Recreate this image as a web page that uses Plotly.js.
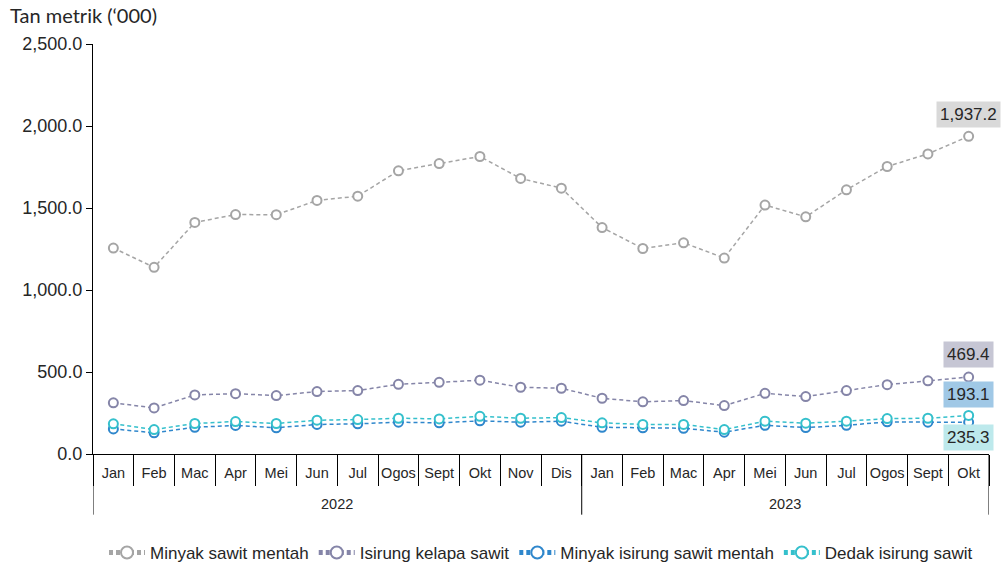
<!DOCTYPE html>
<html>
<head>
<meta charset="utf-8">
<script src="https://cdn.plot.ly/plotly-3.0.1.min.js"></script>
<style>html,body{margin:0;padding:0;background:#fff;}#chart{width:1002px;height:569px;}</style>
</head>
<body>
<div id="chart"></div>
<script>
const years = ['2022','2022','2022','2022','2022','2022','2022','2022','2022','2022','2022','2022',
               '2023','2023','2023','2023','2023','2023','2023','2023','2023','2023'];
const months = ['Jan','Feb','Mac','Apr','Mei','Jun','Jul','Ogos','Sept','Okt','Nov','Dis',
                'Jan','Feb','Mac','Apr','Mei','Jun','Jul','Ogos','Sept','Okt'];

const seriesNames = ['Minyak sawit mentah','Isirung kelapa sawit','Minyak isirung sawit mentah','Dedak isirung sawit'];

const minyakSawitMentah = [1256,1138,1412,1460,1459,1546,1572,1727,1771,1814,1680,1621,
                           1381,1253,1288,1195,1518,1446,1611,1753,1830,1937.2];
const isirungKelapaSawit = [312,281,360,368,356,381,387,425,437,450,407,401,
                            340,318,326,295,370,350,387,423,446,469.4];
const minyakIsirungSawitMentah = [153,129,163,174,160,180,184,194,190,202,194,200,
                                  163,160,157,133,175,161,175,196,194,193.1];
const dedakIsirungSawit = [184,149,186,198,186,206,210,218,214,230,218,222,
                           190,180,180,149,200,188,200,216,218,235.3];

const lineColors = ['#a5a5a5','#8585a8','#2f87cc','#35c0cc'];
const boxColors = ['#d9d9d9','#c6c6d4','#a0c8e6','#bde9ec'];
const labelShift = [22, 23, 28, -22];

const allValues = [minyakSawitMentah, isirungKelapaSawit, minyakIsirungSawitMentah, dedakIsirungSawit];
const FONT = 'Liberation Sans';
const xIdx = months.map((m, i) => i);
const lastIdx = months.length - 1;

const traces = allValues.map((vals, i) => ({
  type: 'scatter',
  mode: 'lines+markers',
  name: seriesNames[i],
  x: xIdx,
  y: vals,
  line: {color: lineColors[i], width: 1.5, dash: '4px,3px'},
  marker: {symbol: 'circle', size: 9, color: '#ffffff', line: {width: 2, color: lineColors[i]}},
  hoverinfo: 'skip'
}));

// year groups derived from the years array
const groups = [];
years.forEach((y, i) => {
  if (!groups.length || groups[groups.length - 1].name !== y) groups.push({name: y, start: i, end: i});
  else groups[groups.length - 1].end = i;
});

const valueLabels = allValues.map((vals, i) => ({
  x: lastIdx,
  y: vals[lastIdx],
  xref: 'x', yref: 'y',
  text: vals[lastIdx].toLocaleString('en-US', {minimumFractionDigits: 1, maximumFractionDigits: 1}),
  showarrow: false,
  xanchor: 'center', yanchor: 'middle',
  yshift: labelShift[i],
  bgcolor: boxColors[i],
  borderpad: 3,
  font: {family: FONT, size: 17, color: '#262626'}
}));

const yearLabels = groups.map(g => ({
  x: (g.start + g.end) / 2, y: -0.121,
  xref: 'x', yref: 'paper',
  text: g.name, showarrow: false,
  xanchor: 'center', yanchor: 'middle',
  font: {family: FONT, size: 14.5, color: '#262626'}
}));

const dividerPositions = [-0.5].concat(groups.map(g => g.end + 0.5));
const shapes = dividerPositions.map(p => ({
  type: 'line', xref: 'x', yref: 'paper',
  x0: p, x1: p, y0: 0, y1: -0.148,
  line: {color: '#000', width: 1}
}));

const layout = {
  width: 1002, height: 569,
  margin: {l: 93, r: 13, t: 44, b: 114.5},
  paper_bgcolor: '#fff', plot_bgcolor: '#fff',
  showlegend: true,
  font: {family: FONT, color: '#262626'},
  title: {
    text: 'Tan metrik (‘000)',
    x: 10/1002, xref: 'container', xanchor: 'left',
    y: 1 - 16/569, yref: 'container', yanchor: 'middle',
    font: {family: 'Lato', size: 20, color: '#262626'}
  },
  xaxis: {
    type: 'linear',
    range: [-0.5, lastIdx + 0.5],
    tickmode: 'array', tickvals: xIdx, ticktext: months,
    tickangle: 0,
    ticks: '',
    ticklabelstandoff: 6,
    minor: {tick0: -0.5, dtick: 1, ticks: 'outside', ticklen: 31, tickcolor: '#000', tickwidth: 1},
    showline: true, linecolor: '#000', linewidth: 1,
    showgrid: false, zeroline: false,
    tickfont: {family: FONT, size: 14.5, color: '#262626'},
    fixedrange: true
  },
  yaxis: {
    range: [0, 2500],
    tickvals: [0,500,1000,1500,2000,2500],
    tickformat: ',.1f',
    showline: true, linecolor: '#000', linewidth: 1,
    ticks: 'outside', ticklen: 6, tickcolor: '#000',
    showgrid: false, zeroline: false,
    tickfont: {family: FONT, size: 18, color: '#262626'},
    fixedrange: true
  },
  legend: {
    orientation: 'h',
    x: 0.5, xanchor: 'center',
    yref: 'container',
    y: 1 - 553/569, yanchor: 'middle',
    itemwidth: 36,
    font: {family: FONT, size: 17, color: '#262626'},
    itemsizing: 'constant'
  },
  shapes: shapes,
  annotations: valueLabels.concat(yearLabels)
};

Plotly.newPlot('chart', traces, layout, {displayModeBar: false, staticPlot: true});
</script>
</body>
</html>
